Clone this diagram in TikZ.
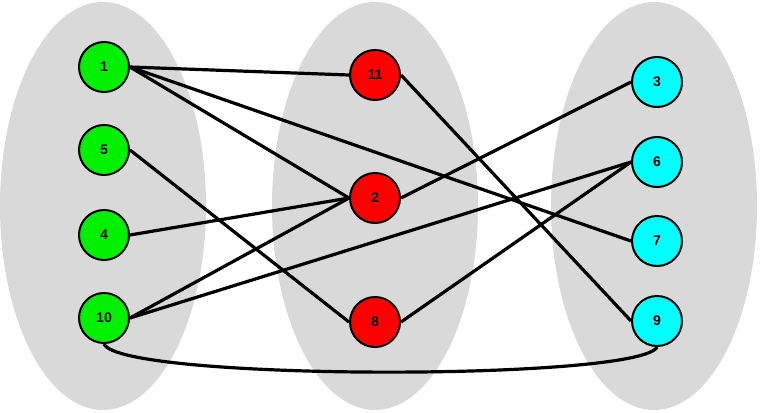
\documentclass[tikz,border=0pt]{standalone}
\usepackage{fontspec}
\setmainfont{Liberation Sans}
\usepackage{tikz}
\usetikzlibrary{shapes.geometric,positioning}
\definecolor{grpgrey}{HTML}{D9D9D9}
\definecolor{vgreen}{HTML}{00F000}
\definecolor{vred}{HTML}{FF0000}
\definecolor{vcyan}{HTML}{00FFFF}

\begin{document}
\begin{tikzpicture}[
    x=0.5pt, y=-0.5pt,
    group/.style={ellipse, fill=grpgrey, minimum width=103pt, minimum height=204pt, inner sep=0pt},
    vertex/.style={circle, draw, line width=1pt, minimum size=25pt, inner sep=0pt, font=\bfseries\fontsize{7}{8}\selectfont},
    edge/.style={line width=1.6pt}
  ]
    \useasboundingbox (0,0) rectangle (774,412);
    % Groups
    \node[group] (grpL) at (103,206) {};
    \node[group] (grpM) at (375,206) {};
    \node[group] (grpR) at (654,206) {};

    % Nodes
    \node[vertex, fill=vgreen] (n1) at (104,67) {1};
    \node[vertex, fill=vgreen] (n5) at (104,150) {5};
    \node[vertex, fill=vgreen] (n4) at (104,235) {4};
    \node[vertex, fill=vgreen] (n10) at (104,318) {10};
    \node[vertex, fill=vred] (n11) at (375,75) {11};
    \node[vertex, fill=vred] (n2) at (375,198) {2};
    \node[vertex, fill=vred] (n8) at (375,322) {8};
    \node[vertex, fill=vcyan] (n3) at (657,82) {3};
    \node[vertex, fill=vcyan] (n6) at (657,162) {6};
    \node[vertex, fill=vcyan] (n7) at (657,241) {7};
    \node[vertex, fill=vcyan] (n9) at (657,321) {9};

    % Edges
    \draw[edge] (n1.east) -- (n11.west);
    \draw[edge] (n1.east) -- (n2.west);
    \draw[edge] (n1.east) -- (n7.west);
    \draw[edge] (n5.east) -- (n8.west);
    \draw[edge] (n4.east) -- (n2.west);
    \draw[edge] (n10.east) -- (n2.west);
    \draw[edge] (n10.east) -- (n6.west);
    \draw[edge] (n11.east) -- (n9.west);
    \draw[edge] (n2.east) -- (n3.west);
    \draw[edge] (n8.east) -- (n6.west);
    \draw[edge] (n10.south) .. controls +(17,37) and +(-17,34) .. (n9.south);
\end{tikzpicture}
\end{document}
